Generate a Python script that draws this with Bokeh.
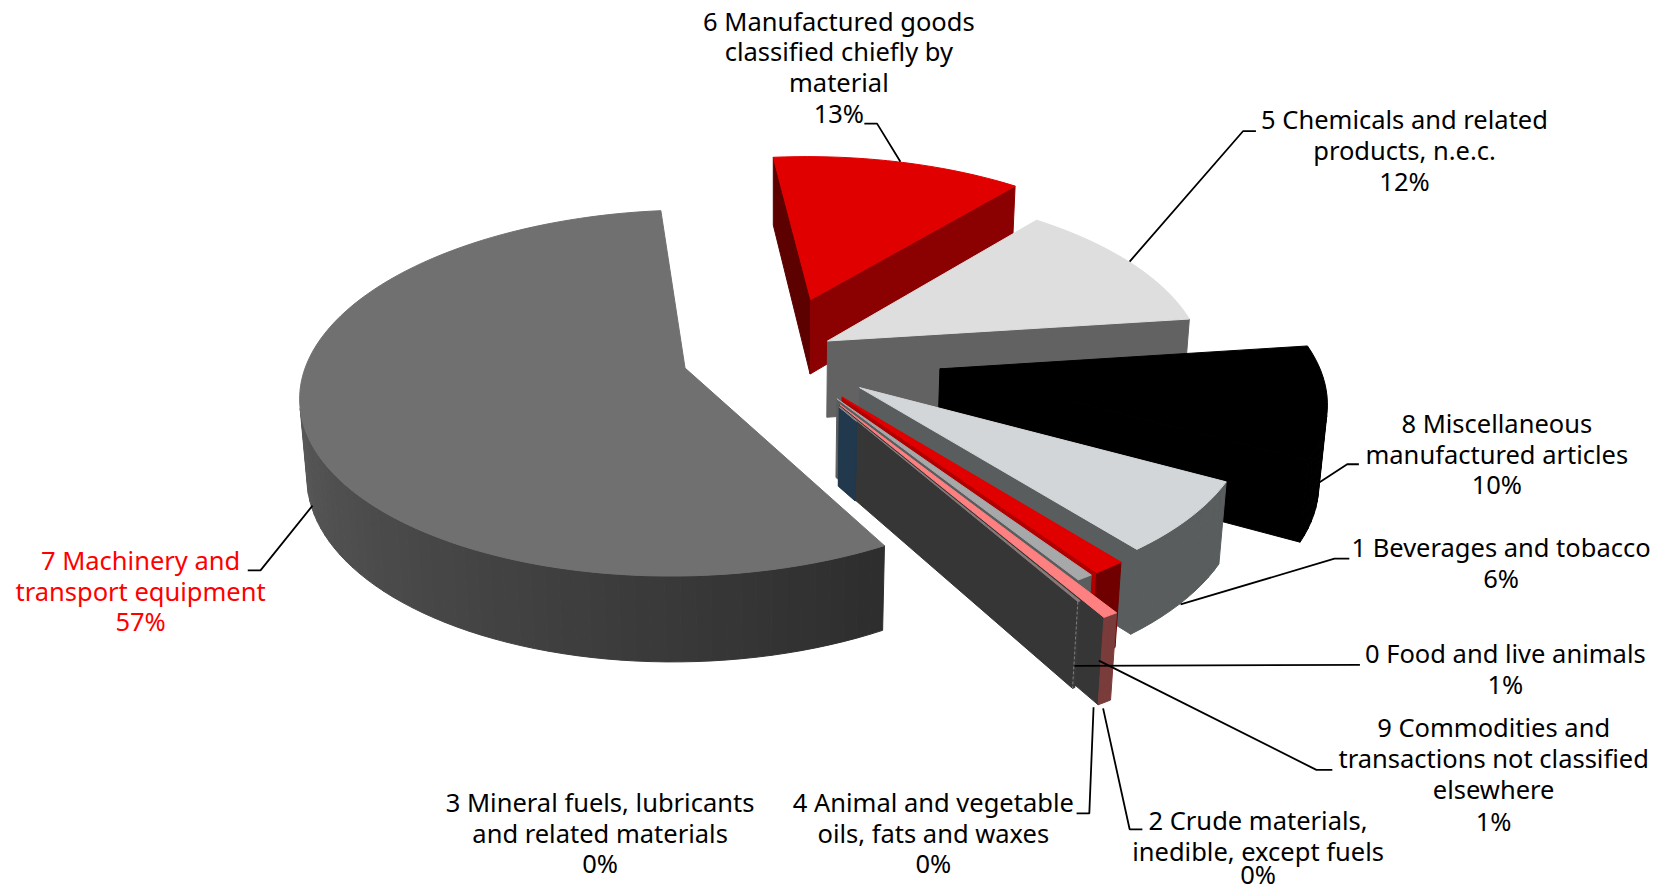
from bokeh.plotting import figure
from bokeh.models import Range1d, ColumnDataSource
from bokeh.embed import file_html
from bokeh.resources import INLINE
from bokeh.core.properties import value
import math

# ---- data, clockwise from the top of the pie
categories = ["6 Manufactured goods classified chiefly by material",
              "5 Chemicals and related products, n.e.c.",
              "8 Miscellaneous manufactured articles",
              "1 Beverages and tobacco",
              "0 Food and live animals",
              "9 Commodities and transactions not classified elsewhere",
              "2 Crude materials, inedible, except fuels",
              "4 Animal and vegetable oils, fats and waxes",
              "3 Mineral fuels, lubricants and related materials",
              "7 Machinery and transport equipment"]
shares = [12.6, 12.0, 10.0, 6.4, 1.2, 0.6, 0.5, 0.1, 0.1, 56.5]

# ---- styles
explode = [0.34, 0.16, 0.44, 0.285, 0.29, 0.29, 0.32, 0.33, 0.33, 0.25]
radius = [1, 1, 1.0, 0.995, 1, 1, 1.12, 1.03, 0.085, 1]
top_col = ["#e00000", "#dedede", "#000000", "#d3d6d8", "#e00000", "#a6a8aa", "#ff8080", "#8a7a7a", "#8a8a8a", "#707070"]
start_wall = ["#5c0000", "#626262", "#000000", "#595d5d", "#8b0000", "#5a5d5d", "#444444", "#3a3a3a", "#22384c", "#3a3a3a"]
end_wall = ["#8b0000", "#626262", "#000000", "#595d5d", "#b00000", "#5a5d5d", "#363636", "#363636", "#22384c", "#3a3a3a"]
rim_col = ["#8b0000", "#626262", "#000000", "#595d5d", "#700000", "#5a5d5d", "#7a3b3b", "#3a3a3a", "#22384c", None]
rim_grad = ((0x2e, 0x2e, 0x2e), (0x60, 0x60, 0x60))

START = -6.0
CX, CY, A, B, H = 775.0, 354.0, 376.0, 176.0, 78.0
P, Q = 0.135, 0.015


def proj(x, y, z):
    s = 1.0 / (1.0 + P * y + Q * z)
    return CX + A * x * s, CY - B * y * s + H * z * s


def area(xs, ys):
    return sum(xs[i] * ys[(i + 1) % len(xs)] - xs[(i + 1) % len(xs)] * ys[i] for i in range(len(xs))) / 2


p = figure(width=1664, height=892, x_range=Range1d(0, 1664), y_range=Range1d(892, 0),
           output_backend="svg", toolbar_location=None, min_border=0)
p.axis.visible = False
p.grid.visible = False
p.outline_line_color = None
p.background_fill_color = "white"

pxs, pys, pcol = [], [], []


def add(pts, col, cull=True):
    xs = [proj(*q)[0] for q in pts]
    ys = [proj(*q)[1] for q in pts]
    if cull and area(xs, ys) >= 0:
        return
    pxs.append(xs)
    pys.append(ys)
    pcol.append(col)


total = sum(shares)
ang = START
seam = None
for i, v in enumerate(shares):
    sweep = v / total * 360
    t0, t1 = ang, ang + sweep
    ang = t1
    mid = math.radians((t0 + t1) / 2)
    ox, oy = explode[i] * math.sin(mid), explode[i] * math.cos(mid)
    n = max(2, int(sweep / 2))
    arc = []
    for k in range(n + 1):
        t = math.radians(t0 + (t1 - t0) * k / n)
        arc.append((ox + radius[i] * math.sin(t), oy + radius[i] * math.cos(t)))
    ap = (ox, oy)
    # radial walls
    add([(ap[0], ap[1], 0), (arc[0][0], arc[0][1], 0), (arc[0][0], arc[0][1], 1), (ap[0], ap[1], 1)], start_wall[i])
    add([(arc[-1][0], arc[-1][1], 0), (ap[0], ap[1], 0), (ap[0], ap[1], 1), (arc[-1][0], arc[-1][1], 1)], end_wall[i])
    # rim
    for k in range(n):
        c = rim_col[i]
        if c is None:
            f = min(1.0, (t0 + (t1 - t0) * k / n - t0) / 125.0)
            rgb = [int(rim_grad[0][j] + (rim_grad[1][j] - rim_grad[0][j]) * f) for j in range(3)]
            c = "#%02x%02x%02x" % tuple(rgb)
        a, b = arc[k], arc[k + 1]
        add([(a[0], a[1], 0), (b[0], b[1], 0), (b[0], b[1], 1), (a[0], a[1], 1)], c)
    # top
    add([(ap[0], ap[1], 0)] + [(q[0], q[1], 0) for q in arc], top_col[i], cull=False)
    if i == 7:
        seam = [proj(arc[-1][0], arc[-1][1], z) for z in (0, 1)]

p.patches(pxs, pys, fill_color=pcol, line_color=pcol, line_width=1)
p.line([q[0] for q in seam], [q[1] for q in seam], line_color="#808080", line_width=1, line_dash="3 2")

# ---- leader lines (reference pixels)
K = 1664 / 1568
leaders = [[(848, 152), (826, 116), (814, 116)],
           [(1064, 246), (1171, 123), (1183, 123)],
           [(1243, 454), (1269, 437), (1280, 437)],
           [(1112, 569), (1257, 526), (1271, 526)],
           [(1012, 627), (1281, 626)],
           [(1035, 622), (1240, 725), (1255, 725)],
           [(1039, 667), (1064, 781), (1076, 781)],
           [(1030, 666), (1026, 766), (1014, 766)],
           [(294, 476), (245, 537), (233, 537)]]
p.multi_line([[q[0] * K for q in l] for l in leaders], [[q[1] * K for q in l] for l in leaders],
             line_color="black", line_width=1.8)

# ---- labels
labels = [(790, 19, "6 Manufactured goods", "black"), (790, 48, "classified chiefly by", "black"),
          (790, 77, "material", "black"), (790, 106, "13%", "black"),
          (1323, 112, "5 Chemicals and related", "black"), (1323, 141, "products, n.e.c.", "black"),
          (1323, 170, "12%", "black"),
          (1410, 398, "8 Miscellaneous", "black"), (1410, 427, "manufactured articles", "black"),
          (1410, 456, "10%", "black"),
          (1414, 515, "1 Beverages and tobacco", "black"), (1414, 544, "6%", "black"),
          (1418, 615, "0 Food and live animals", "black"), (1418, 644, "1%", "black"),
          (1407, 685, "9 Commodities and", "black"), (1407, 714, "transactions not classified", "black"),
          (1407, 743, "elsewhere", "black"), (1407, 773, "1%", "black"),
          (1185, 772, "2 Crude materials,", "black"), (1185, 801, "inedible, except fuels", "black"),
          (1185, 823, "0%", "black"),
          (879, 755, "4 Animal and vegetable", "black"), (879, 784, "oils, fats and waxes", "black"),
          (879, 813, "0%", "black"),
          (565, 755, "3 Mineral fuels, lubricants", "black"), (565, 784, "and related materials", "black"),
          (565, 813, "0%", "black"),
          (132, 527, "7 Machinery and", "#ff0000"), (132, 556, "transport equipment", "#ff0000"),
          (132, 585, "57%", "#ff0000")]
src = ColumnDataSource(dict(x=[l[0] * K for l in labels], y=[l[1] * K for l in labels],
                            t=[l[2] for l in labels], c=[l[3] for l in labels]))
p.text("x", "y", text="t", source=src, text_color="c", text_font=value("Noto Sans"), text_font_size="25.5px",
       text_align="center", text_baseline="middle")

open("out.html", "w").write(file_html(p, INLINE))
